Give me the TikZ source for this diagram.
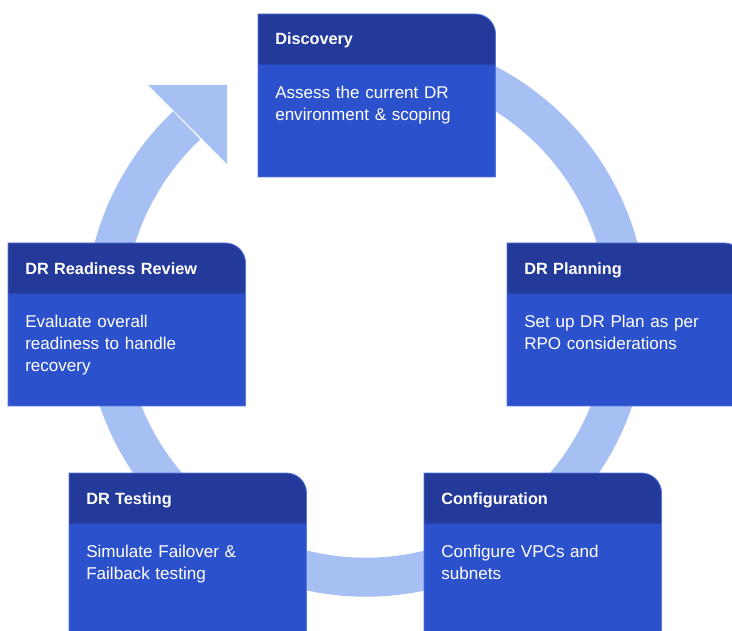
\documentclass[tikz,border=0pt]{standalone}
\usepackage{fontspec}
\setmainfont{Liberation Sans}
\usetikzlibrary{positioning,backgrounds}
\definecolor{ringblue}{HTML}{A7C0F4}
\definecolor{headblue}{HTML}{233A9A}
\definecolor{bodyblue}{HTML}{2C51CC}
\definecolor{edgeblue}{HTML}{5677DD}
\begin{document}
\begin{tikzpicture}[
        x=0.75pt, y=0.75pt,
        node distance=0pt,
        head/.style={anchor=north west, minimum width=177.75pt, minimum height=37.5pt, text width=152.25pt, inner xsep=12.75pt, inner ysep=0pt, text height=8.6pt, text depth=0pt, align=left, text=white, font=\fontsize{12.2}{16.5}\selectfont\bfseries},
        body/.style={minimum width=177.75pt, text width=152.25pt, inner xsep=12.75pt, inner ysep=0pt, text height=25.5pt, text depth=58.5pt, align=left, text=white, font=\fontsize{12.8}{16.5}\selectfont},
        ring/.style={ringblue, line width=29.25pt},
    ]
    \useasboundingbox (0,0) rectangle (732,-631);
    \coordinate (ctr) at (366,-315.7);

    \node[head] (disc) at (258,-14) {Discovery};
    \node[body, below=of disc] (disc-txt) {Assess the current DR\\environment \& scoping};
    \node[head] (plan) at (507,-243) {DR Planning};
    \node[body, below=of plan] (plan-txt) {Set up DR Plan as per\\RPO considerations};
    \node[head] (conf) at (424,-473) {Configuration};
    \node[body, below=of conf] (conf-txt) {Configure VPCs and\\subnets};
    \node[head] (test) at (69,-473) {DR Testing};
    \node[body, below=of test] (test-txt) {Simulate Failover \&\\Failback testing};
    \node[head] (rev) at (8,-243) {DR Readiness Review};
    \node[body, below=of rev] (rev-txt) {Evaluate overall\\readiness to handle\\recovery};

    \begin{scope}[on background layer]
        % cycle arrow
        \draw[ring] (ctr) ++(95:261.5) arc[start angle=95, end angle=-226.7, radius=261.5];
        \fill[ringblue] (148,-85) -- (227,-85) -- (227,-164) -- cycle;
        % boxes
        \foreach \n in {disc,plan,conf,test,rev} {
            \fill[bodyblue] (\n.west) rectangle (\n-txt.south east);
            \fill[headblue] (\n.south west) -- (\n.north west) [rounded corners=15pt] -- (\n.north east) [sharp corners] -- (\n.south east) -- cycle;
            \draw[edgeblue, line width=0.6pt] (\n-txt.south west) -- (\n.north west) [rounded corners=15pt] -- (\n.north east) [sharp corners] -- (\n-txt.south east) -- cycle;
        }
    \end{scope}
\end{tikzpicture}
\end{document}
